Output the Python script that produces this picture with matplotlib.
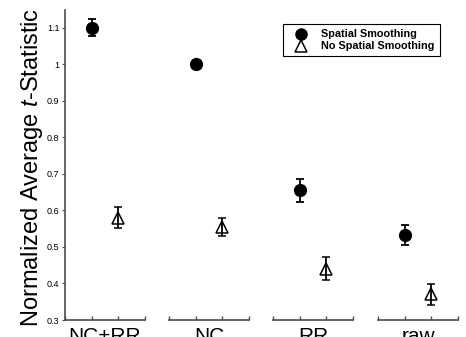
import matplotlib.pyplot as plt
from matplotlib.ticker import FormatStrFormatter
from matplotlib.lines import Line2D

plt.rcParams['font.family'] = ['Liberation Sans', 'DejaVu Sans']
plt.rcParams['mathtext.fontset'] = 'custom'
plt.rcParams['mathtext.it'] = 'Liberation Sans:italic'
plt.rcParams['mathtext.rm'] = 'Liberation Sans'

# data
categories = ["NC+RR", "NC", "RR", "raw"]
smooth_mean = [1.10, 1.00, 0.655, 0.533]
smooth_err = [0.023, 0.005, 0.031, 0.027]
nosmooth_mean = [0.58, 0.555, 0.44, 0.37]
nosmooth_err = [0.028, 0.025, 0.031, 0.028]

fig = plt.figure(figsize=(4.66, 3.37), dpi=100)

lefts = [65, 169, 273, 378]
spine_col = "0.3"
axes = []
for i, name in enumerate(categories):
    ax = fig.add_axes([lefts[i] / 466, 1 - 320 / 337, 80 / 466, 310 / 337])
    ax.errorbar([1], [smooth_mean[i]], yerr=[smooth_err[i]], fmt="o", color="black",
                ms=8.5, capsize=3, elinewidth=1.3, capthick=1.3)
    ax.errorbar([2], [nosmooth_mean[i]], yerr=[nosmooth_err[i]], fmt="^", color="black",
                mfc="none", mec="black", mew=1.1, ms=8.5, capsize=3,
                elinewidth=1.3, capthick=1.3)
    ax.set_xlim(0, 3)
    ax.set_ylim(0.3, 1.148)
    ax.set_xticks([0, 1, 2, 3])
    ax.set_xticklabels([])
    ax.tick_params(axis="x", direction="in", length=3, color=spine_col, width=1)
    for s in ["top", "right"]:
        ax.spines[s].set_visible(False)
    ax.spines["bottom"].set_color(spine_col)
    ax.spines["bottom"].set_linewidth(1.2)
    if i == 0:
        ax.spines["left"].set_color(spine_col)
        ax.spines["left"].set_linewidth(1.2)
        ax.set_yticks([0.3, 0.4, 0.5, 0.6, 0.7, 0.8, 0.9, 1.0, 1.1])
        ax.yaxis.set_major_formatter(FormatStrFormatter("%g"))
        ax.tick_params(axis="y", direction="out", length=2.5, color=spine_col,
                       labelsize=6.5, pad=1.5)
    else:
        ax.spines["left"].set_visible(False)
        ax.set_yticks([])
    ax.patch.set_alpha(0)
    ax.text(0.5, -0.024, name, transform=ax.transAxes, ha="center", va="top",
            fontsize=15)
    axes.append(ax)

fig.text(0.068, 0.504, "Normalized Average $t$-Statistic", rotation=90,
         ha="center", va="center", fontsize=17)

handles = [
    Line2D([], [], marker="o", ls="none", color="black", ms=8),
    Line2D([], [], marker="^", ls="none", mfc="none", mec="black", mew=1.1, ms=8),
]
leg = fig.legend(handles, ["Spatial Smoothing", "No Spatial Smoothing"],
                 loc="upper right", bbox_to_anchor=(445 / 466, 1 - 19 / 337),
                 fancybox=False, edgecolor="black", framealpha=1,
                 prop={"weight": "bold", "size": 7.8}, handletextpad=0.7,
                 borderpad=0.45, labelspacing=0.2, handlelength=2.4)
leg.get_frame().set_linewidth(0.8)

fig.savefig("out.png", dpi=100)
